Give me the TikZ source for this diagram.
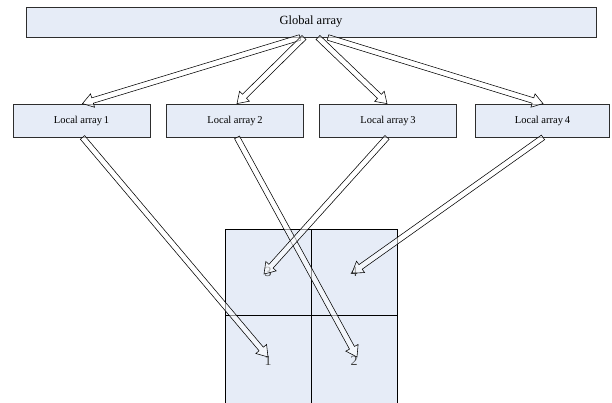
\documentclass[tikz,border=0pt]{standalone}
\usepackage{fontspec}
\setmainfont{Liberation Serif}
\usetikzlibrary{calc}
\definecolor{boxfill}{RGB}{230,236,247}
\definecolor{boxline}{RGB}{45,45,45}
\tikzset{
  gbox/.style={draw=boxline, line width=0.9pt, fill=boxfill, inner sep=0pt, minimum width=570pt, minimum height=30pt, font=\fontsize{12.5}{14}\selectfont},
  lbox/.style={draw=boxline, line width=0.8pt, fill=boxfill, inner sep=0pt, minimum width=137pt, minimum height=33pt, font=\fontsize{10.5}{12}\selectfont},
  cell/.style={draw=black, line width=0.7pt, fill=boxfill, inner sep=0pt, minimum width=86pt, minimum height=86pt, font=\fontsize{14}{16}\selectfont, text=black!75},
  blkarr/.style={draw=black, line width=0.55pt, fill=white, fill opacity=0.55, line join=miter}
}
\newcommand{\blockarrow}[2]{%
  \coordinate (bh) at ($(#2)!10.5pt!(#1)$);
  \draw[blkarr] ($(#1)!2.8pt!90:(#2)$) -- ($(bh)!2.8pt!90:(#2)$) -- ($(bh)!7pt!90:(#2)$) -- (#2)
    -- ($(bh)!7pt!-90:(#2)$) -- ($(bh)!2.8pt!-90:(#2)$) -- ($(#1)!2.8pt!-90:(#2)$) -- cycle;}
\begin{document}
\begin{tikzpicture}[x=1pt,y=-1pt]
\clip (0,0) rectangle (612,402);
\fill[white] (0,0) rectangle (612,402);
% global
\node[gbox] (g) at (311,22) {Global array};
% locals
\node[lbox] (l1) at (81.5,120.5) {Local array\,1};
\node[lbox] (l2) at (235,120.5) {Local array\,2};
\node[lbox] (l3) at (388,120.5) {Local array\,3};
\node[lbox, minimum width=134pt] (l4) at (542.5,120.5) {Local array\,4};
% grid
\node[cell] (c3) at (268,272) {3};
\node[cell] (c4) at (354,272) {4};
\node[cell, minimum height=96pt] (c1) at (268,363) {\raisebox{5pt}{1}};
\node[cell, minimum height=96pt] (c2) at (354,363) {\raisebox{5pt}{2}};
% arrow ends
\coordinate (gt1) at ($(g.south)+(-11,0)$);
\coordinate (gt2) at ($(g.south)+(-7,0)$);
\coordinate (gt3) at ($(g.south)+(7,0)$);
\coordinate (gt4) at ($(g.south)+(17,0)$);
\coordinate (lt1) at ($(l1.north)+(1,0)$);
\coordinate (lt2) at ($(l2.north)+(2,0)$);
\coordinate (lt3) at ($(l3.north)+(-1,0)$);
\coordinate (lt4) at ($(l4.north)+(0.5,0)$);
\coordinate (ls1) at ($(l1.south)+(1,0)$);
\coordinate (ls2) at ($(l2.south)+(2,0)$);
\coordinate (ls3) at ($(l3.south)+(-1,0)$);
\coordinate (ls4) at ($(l4.south)+(0.5,0)$);
\coordinate (ct1) at ($(c1.center)+(0,-6)$);
\coordinate (ct2) at ($(c2.center)+(3,-6)$);
\coordinate (ct3) at ($(c3.center)+(-4,2)$);
\coordinate (ct4) at ($(c4.center)+(-2,1)$);
% arrows global -> locals
\blockarrow{gt1}{lt1}
\blockarrow{gt2}{lt2}
\blockarrow{gt3}{lt3}
\blockarrow{gt4}{lt4}
% arrows locals -> grid
\blockarrow{ls1}{ct1}
\blockarrow{ls2}{ct2}
\blockarrow{ls3}{ct3}
\blockarrow{ls4}{ct4}
\end{tikzpicture}
\end{document}
